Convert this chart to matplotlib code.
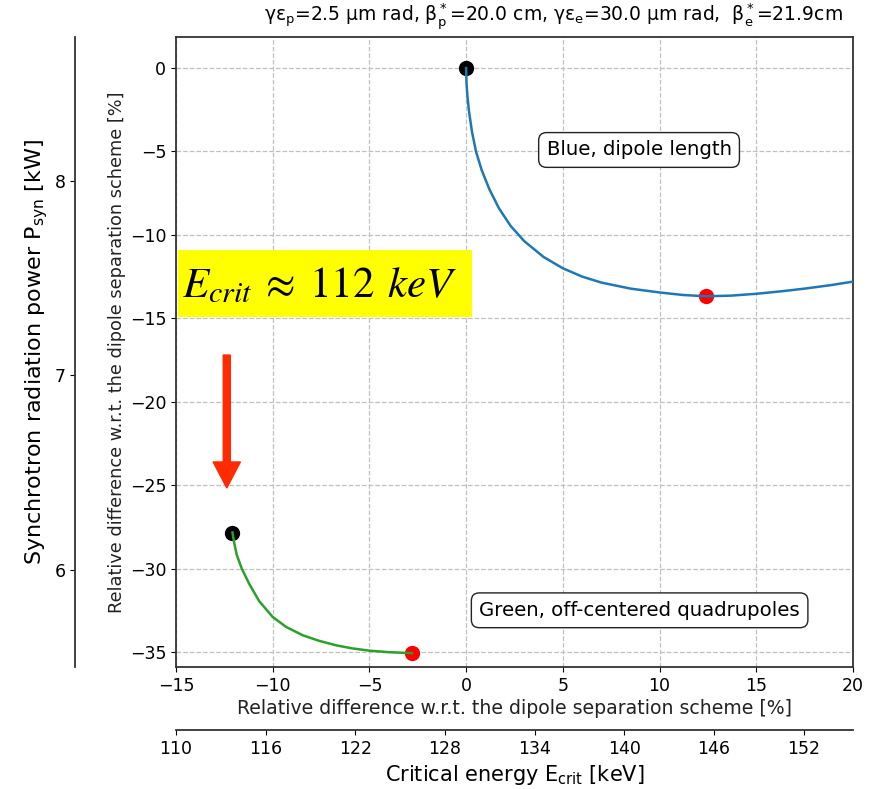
import matplotlib
matplotlib.use("Agg")
import matplotlib.pyplot as plt
from matplotlib.patches import FancyArrow, Rectangle

# blue curve: dipole length scan (relative differences in %)
blue_x = [0, 0.02, 0.07, 0.15, 0.3, 0.51, 0.8, 1.2, 1.7, 2.3, 3.0, 4.0, 5.0, 6.0, 7.0,
          8.5, 10, 11.2, 12.4, 13.7, 15, 16.3, 17.5, 18.8, 20]
blue_y = [0, -0.9, -1.72, -2.6, -3.8, -5.0, -6.1, -7.26, -8.41, -9.46, -10.37, -11.32,
          -12.0, -12.5, -12.86, -13.22, -13.45, -13.6, -13.68, -13.64, -13.53, -13.38,
          -13.22, -13.02, -12.8]

# green curve: off-centered quadrupoles
green_x = [-12.08, -12.0, -11.86, -11.6, -11.22, -10.7, -10.0, -9.3, -8.44, -7.6,
           -6.72, -5.9, -5.0, -4.0, -2.8]
green_y = [-27.84, -28.4, -29.17, -30.0, -30.9, -31.95, -32.9, -33.5, -34.0, -34.33,
           -34.6, -34.78, -34.92, -35.01, -35.07]

start_x = [0, -12.08]
start_y = [0, -27.84]
best_x = [12.4, -2.8]
best_y = [-13.68, -35.07]

# reference values of the dipole scheme
E_REF = 129.41  # keV
P_REF = 8.58    # kW

fig = plt.figure(figsize=(8.79, 7.89), dpi=100)
ax = fig.add_axes([0.2002, 0.1546, 0.7702, 0.7989])

ax.plot(start_x, start_y, "o", color="black", markersize=10, zorder=2)
ax.plot(best_x, best_y, "o", color="red", markersize=10, zorder=2)
ax.plot(blue_x, blue_y, color="#1f77b4", linewidth=1.8, zorder=3)
ax.plot(green_x, green_y, color="#2ca02c", linewidth=1.8, zorder=3)

ax.set_xlim(-15, 20)
ax.set_ylim(-35.9, 1.88)
ax.set_xticks([-15, -10, -5, 0, 5, 10, 15, 20])
ax.set_yticks([0, -5, -10, -15, -20, -25, -30, -35])
ax.grid(True, linestyle="--", color="#c0c0c0", linewidth=0.9)
ax.tick_params(labelsize=12.5)
for s in ax.spines.values():
    s.set_color("#333333")
    s.set_linewidth(1.3)
ax.set_xlabel("Relative difference w.r.t. the dipole separation scheme [%]",
              fontsize=13.6, color="#222222", labelpad=3)
ax.set_ylabel("Relative difference w.r.t. the dipole separation scheme [%]",
              fontsize=12.8, color="#222222", labelpad=3)

box = dict(boxstyle="round,pad=0.4", facecolor="white", edgecolor="#222222")
ax.text(8.94, -4.91, "Blue, dipole length", fontsize=14.2, ha="center", va="center",
        bbox=box)
ax.text(8.97, -32.5, "Green, off-centered quadrupoles", fontsize=14.2, ha="center",
        va="center", bbox=box)

# secondary axes
secx = ax.secondary_xaxis(-0.1, functions=(lambda p: E_REF * (1 + p / 100),
                                           lambda e: (e / E_REF - 1) * 100))
secx.set_xticks([110, 116, 122, 128, 134, 140, 146, 152])
secx.tick_params(labelsize=12.5)
secx.spines["bottom"].set_color("#333333")
secx.spines["bottom"].set_linewidth(1.3)
secx.set_xlabel("Critical energy E$_\\mathrm{crit}$ [keV]", fontsize=15)

secy = ax.secondary_yaxis(-0.149, functions=(lambda p: P_REF * (1 + p / 100),
                                             lambda w: (w / P_REF - 1) * 100))
secy.set_yticks([6, 7, 8])
secy.tick_params(labelsize=12.5)
secy.spines["left"].set_color("#333333")
secy.spines["left"].set_linewidth(1.3)
secy.set_ylabel("Synchrotron radiation power P$_\\mathrm{syn}$ [kW]", fontsize=16,
                labelpad=3)

fig.text(0.630, 0.979,
         "γε$_\\mathrm{p}$=2.5 μm rad, β$_\\mathrm{p}^*$=20.0 cm, "
         "γε$_\\mathrm{e}$=30.0 μm rad,  β$_\\mathrm{e}^*$=21.9cm",
         fontsize=13.5, ha="center", va="center")

# yellow note and red arrow
fig.patches.append(Rectangle((0.2025, 0.5982), 0.3345, 0.0849, facecolor="yellow",
                             edgecolor="none", transform=fig.transFigure, figure=fig))
fig.text(0.207, 0.6236, "$E_{crit}\\:\\approx\\;112\\;\\,keV$", fontsize=31,
         math_fontfamily="stix", ha="left", va="baseline")
fig.patches.append(FancyArrow(
    0.258, 0.550, 0, -0.1685, width=0.008, head_width=0.031, head_length=0.033,
    length_includes_head=True, color="#ff2a00", transform=fig.transFigure, figure=fig))

fig.savefig("out.png", dpi=100)
